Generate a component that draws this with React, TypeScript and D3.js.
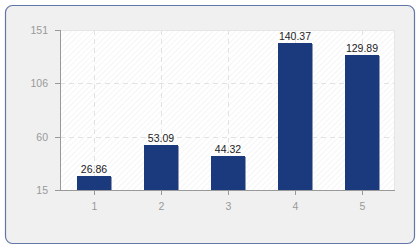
import React from "react";
import * as d3 from "d3";

const categories = ["1", "2", "3", "4", "5"];
const values = [26.86, 53.09, 44.32, 140.37, 129.89];
const yTicks = [15, 60, 106, 151];

const W = 420;
const H = 250;
const M = { left: 60, right: 25, top: 30, bottom: 60 };

export default function App() {
  const x = d3
    .scaleBand<string>()
    .domain(categories)
    .range([M.left, W - M.right])
    .paddingInner(0.5)
    .paddingOuter(0.25);
  const y = d3.scaleLinear().domain([15, 151]).range([H - M.bottom, M.top]);
  const font = "'Liberation Sans', Arial, sans-serif";
  const x0 = M.left;
  const x1 = W - M.right;
  const y0 = H - M.bottom;
  const y1 = M.top;
  const bw = x.bandwidth();
  return (
    <svg
      width={W}
      height={H}
      style={{ position: "absolute", left: 0, top: 0 }}
      fontFamily={font}
    >
      <defs>
        <pattern id="hatch" width="4" height="4" patternUnits="userSpaceOnUse" patternTransform="rotate(45)">
          <rect width="4" height="4" fill="#ffffff" />
          <line x1="0" y1="0" x2="0" y2="4" stroke="#ececec" strokeWidth="1" />
        </pattern>
      </defs>
      <rect x={0} y={0} width={W} height={H} fill="#ffffff" />
      <rect x={5.5} y={5.5} width={409} height={238} rx={7} fill="#f0f0f0" stroke="#6276a8" strokeWidth={1.2} />
      <rect x={x0} y={y1} width={x1 - x0} height={y0 - y1} fill="url(#hatch)" />
      {yTicks.slice(1, -1).map((t) => (
        <line key={"gy" + t} x1={x0} x2={x1} y1={Math.round(y(t)) + 0.5} y2={Math.round(y(t)) + 0.5} stroke="#e2e2e2" strokeDasharray="5,4" />
      ))}
      {categories.map((c) => {
        const cx = Math.round(x(c)! + bw / 2) + 0.5;
        return <line key={"gx" + c} x1={cx} x2={cx} y1={y1} y2={y0} stroke="#e2e2e2" strokeDasharray="5,4" />;
      })}
      <line x1={x0} x2={x1} y1={y1 + 0.5} y2={y1 + 0.5} stroke="#e6e6e6" />
      <line x1={x1 - 0.5} x2={x1 - 0.5} y1={y1} y2={y0} stroke="#e6e6e6" />
      {categories.map((c, i) => {
        const bx = Math.round(x(c)!);
        const by = Math.round(y(values[i]));
        const bwr = Math.round(bw);
        return (
          <g key={"b" + c}>
            <rect x={bx + 1} y={by + 1} width={bwr} height={y0 - by - 1} fill="#8f9ab8" />
            <rect x={bx} y={by} width={bwr} height={y0 - by} fill="#1b3a7e" />
            <text x={bx + bwr / 2} y={by - 3} textAnchor="middle" fontSize={10.5} fill="#222">
              {values[i].toFixed(2)}
            </text>
          </g>
        );
      })}
      <line x1={x0 + 0.5} x2={x0 + 0.5} y1={y1} y2={y0} stroke="#999" />
      <line x1={x0} x2={x1} y1={y0 + 0.5} y2={y0 + 0.5} stroke="#999" />
      {yTicks.map((t) => {
        const ty = Math.round(y(t)) + 0.5;
        return (
          <g key={"ty" + t}>
            <line x1={x0 - 5} x2={x0} y1={ty} y2={ty} stroke="#999" />
            <text x={x0 - 12} y={ty + 3.5} textAnchor="end" fontSize={10.5} fill="#999">
              {t}
            </text>
          </g>
        );
      })}
      {categories.map((c) => {
        const cx = Math.round(x(c)! + bw / 2) + 0.5;
        return (
          <g key={"tx" + c}>
            <line x1={cx} x2={cx} y1={y0} y2={y0 + 5} stroke="#999" />
            <text x={cx} y={y0 + 20} textAnchor="middle" fontSize={10.5} fill="#999">
              {c}
            </text>
          </g>
        );
      })}
    </svg>
  );
}
